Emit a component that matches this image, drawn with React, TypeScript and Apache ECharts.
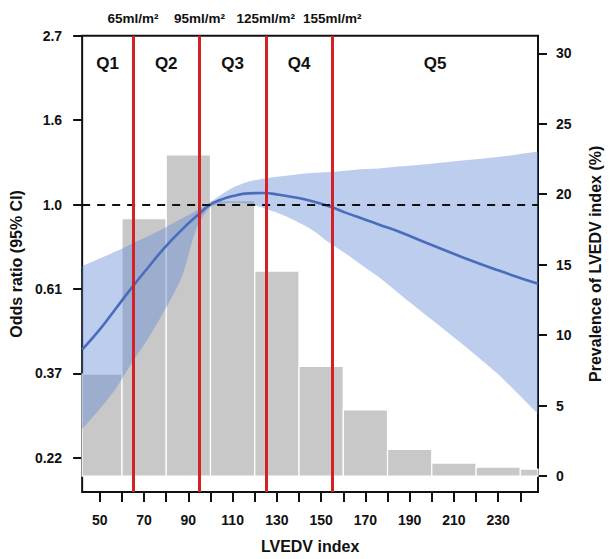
import React, { useEffect, useRef } from 'react';
import * as echarts from 'echarts';

// ---------- data ----------
const xMin = 42;
const xMax = 248;

// histogram (right axis, %)
const binStarts = [40, 60, 80, 100, 120, 140, 160, 180, 200, 220, 240];
const binEnds = [60, 80, 100, 120, 140, 160, 180, 200, 220, 240, 260];
const prevalence = [7.24, 18.26, 22.8, 19.55, 14.55, 7.78, 4.69, 1.89, 0.92, 0.64, 0.5];

// spline curve: ln(odds ratio) with 95% CI
const curveX = [42, 50, 57, 64, 72, 79, 87, 94, 100, 105, 110, 117, 124, 131, 139, 146, 154, 161, 170, 176, 185, 200, 215, 230, 248];
const lnOR = [-0.86, -0.74, -0.62, -0.5, -0.37, -0.26, -0.15, -0.065, 0, 0.03, 0.05, 0.066, 0.068, 0.058, 0.04, 0.02, -0.012, -0.048, -0.09, -0.118, -0.16, -0.24, -0.318, -0.39, -0.47];
const lnUpper = [-0.364, -0.32, -0.279, -0.235, -0.187, -0.14, -0.083, -0.034, 0.015, 0.06, 0.1, 0.135, 0.153, 0.166, 0.178, 0.186, 0.192, 0.2, 0.21, 0.214, 0.225, 0.242, 0.262, 0.281, 0.314];
const lnLower = [-1.33, -1.21, -1.094, -0.947, -0.79, -0.633, -0.43, -0.13, -0.015, 0.005, 0.01, 0.004, -0.02, -0.053, -0.1, -0.151, -0.23, -0.29, -0.375, -0.43, -0.525, -0.682, -0.839, -1.006, -1.24];

// quintile cut-offs
const cutoffs = [65, 95, 125, 155];
const cutoffLabels = ['65ml/m²', '95ml/m²', '125ml/m²', '155ml/m²'];
const qNames = ['Q1', 'Q2', 'Q3', 'Q4', 'Q5'];
const qBounds = [xMin, 65, 95, 125, 155, xMax];

// axes
const xTicks = [50, 60, 70, 80, 90, 100, 110, 120, 130, 140, 150, 160, 170, 180, 190, 200, 210, 220, 230, 240];
const xLabels = [50, 70, 90, 110, 130, 150, 170, 190, 210, 230];
const orTickLn = [-1.5, -1, -0.5, 0, 0.5, 1];
const orTickLabels = ['0.22', '0.37', '0.61', '1.0', '1.6', '2.7'];
const orMinLn = -1.703;
const orMaxLn = 1.0;
const prevTicks = [0, 5, 10, 15, 20, 25, 30];
const prevMin = -1.13;
const prevMax = 31.25;

const FONT = 'Liberation Sans, Arial, Helvetica, sans-serif';
const INK = '#111';

export default function App() {
  const ref = useRef<HTMLDivElement>(null);
  useEffect(() => {
    document.body.style.margin = '0';
    const chart = echarts.init(ref.current!, null, { renderer: 'svg' });

    const option: any = {
      animation: false,
      textStyle: { fontFamily: FONT },
      grid: {
        left: 80.7,
        right: 71,
        top: 35.7,
        bottom: 65.7,
        show: true,
        borderColor: INK,
        borderWidth: 2,
        backgroundColor: 'transparent',
      },
      xAxis: {
        type: 'value',
        min: xMin,
        max: xMax,
        axisLine: { show: false, onZero: false },
        splitLine: { show: false },
        axisTick: { show: true, customValues: xTicks, length: 10, lineStyle: { color: INK, width: 2 } },
        axisLabel: { customValues: xLabels, margin: 21, fontSize: 14, fontWeight: 'bold', color: INK, fontFamily: FONT },
        name: 'LVEDV index',
        nameLocation: 'middle',
        nameGap: 46,
        nameTextStyle: { fontSize: 16, fontWeight: 'bold', color: INK, fontFamily: FONT },
      },
      yAxis: [
        {
          type: 'value',
          position: 'left',
          min: orMinLn,
          max: orMaxLn,
          axisLine: { show: false, onZero: false },
          splitLine: { show: false },
          axisTick: { show: true, customValues: orTickLn, length: 9, lineStyle: { color: INK, width: 2 } },
          axisLabel: {
            customValues: orTickLn,
            margin: 20,
            fontSize: 14,
            fontWeight: 'bold',
            color: INK,
            fontFamily: FONT,
            formatter: (v: number) => {
              const i = orTickLn.findIndex((t) => Math.abs(t - v) < 1e-6);
              return i >= 0 ? orTickLabels[i] : '';
            },
          },
          name: 'Odds ratio (95% CI)',
          nameLocation: 'middle',
          nameGap: 53,
          nameTextStyle: { fontSize: 16, fontWeight: 'bold', color: INK, fontFamily: FONT },
        },
        {
          type: 'value',
          position: 'right',
          min: prevMin,
          max: prevMax,
          axisLine: { show: false, onZero: false },
          splitLine: { show: false },
          axisTick: { show: true, customValues: prevTicks, length: 9, lineStyle: { color: INK, width: 2 } },
          axisLabel: { customValues: prevTicks, margin: 18, fontSize: 14, fontWeight: 'bold', color: INK, fontFamily: FONT },
          name: 'Prevalence of LVEDV index (%)',
          nameLocation: 'middle',
          nameGap: 49,
          nameTextStyle: { fontSize: 16, fontWeight: 'bold', color: INK, fontFamily: FONT },
        },
      ],
      series: [
        {
          type: 'custom',
          name: 'prevalence',
          xAxisIndex: 0,
          yAxisIndex: 1,
          z: 1,
          encode: { x: [0, 1], y: 2 },
          data: binStarts.map((s, i) => [s, binEnds[i], prevalence[i]]),
          renderItem: (params: any, api: any) => {
            const p0 = api.coord([api.value(0), 0]);
            const p1 = api.coord([api.value(1), api.value(2)]);
            const cs = params.coordSys;
            const shape = echarts.graphic.clipRectByRect(
              { x: p0[0], y: p1[1], width: p1[0] - p0[0], height: p0[1] - p1[1] },
              { x: cs.x, y: cs.y, width: cs.width, height: cs.height }
            );
            if (!shape) return null;
            return {
              type: 'rect',
              shape,
              style: { fill: '#c8c8c8', stroke: '#ffffff', lineWidth: 1.2 },
            };
          },
          markArea: {
            silent: true,
            itemStyle: { color: 'rgba(0,0,0,0)' },
            label: {
              show: true,
              position: 'insideTop',
              distance: 19,
              fontSize: 17,
              fontWeight: 'bold',
              color: INK,
              fontFamily: FONT,
            },
            data: qNames.map((n, i) => [{ xAxis: qBounds[i], name: n }, { xAxis: qBounds[i + 1] }]),
          },
        },
        {
          type: 'custom',
          name: 'CI',
          xAxisIndex: 0,
          yAxisIndex: 0,
          z: 2,
          encode: { x: 0, y: [1, 2] },
          data: curveX.map((x, i) => [x, lnLower[i], lnUpper[i]]),
          renderItem: (params: any, api: any) => {
            if (params.dataIndex !== 0) return null;
            const n = curveX.length;
            const pts: number[][] = [];
            const up = curveX.map((x, i) => api.coord([x, lnUpper[i]]));
            const lo = curveX.map((x, i) => api.coord([x, lnLower[i]]));
            // duplicate the end points so the smoothing keeps sharp corners at the plot edges
            pts.push(up[0]);
            for (let i = 0; i < n; i++) pts.push(up[i]);
            pts.push(up[n - 1]);
            pts.push(lo[n - 1]);
            for (let i = n - 1; i >= 0; i--) pts.push(lo[i]);
            pts.push(lo[0]);
            return {
              type: 'polygon',
              shape: { points: pts, smooth: 0.3 },
              style: { fill: 'rgba(95,135,215,0.42)', stroke: 'none' },
            };
          },
        },
        {
          type: 'line',
          name: 'OR',
          xAxisIndex: 0,
          yAxisIndex: 0,
          z: 3,
          smooth: true,
          symbol: 'none',
          data: curveX.map((x, i) => [x, lnOR[i]]),
          lineStyle: { color: '#4a6cbd', width: 2.6 },
          markLine: {
            silent: true,
            symbol: 'none',
            animation: false,
            data: [
              {
                yAxis: 0,
                lineStyle: { type: [8, 7], color: INK, width: 2 },
                label: { show: false },
              },
              ...cutoffs.map((c, i) => ({
                xAxis: c,
                lineStyle: { type: 'solid', color: '#d42027', width: 3 },
                label: {
                  show: true,
                  position: 'end',
                  distance: 10,
                  formatter: cutoffLabels[i],
                  fontSize: 13.5,
                  fontWeight: 'bold',
                  color: INK,
                  fontFamily: FONT,
                },
              })),
            ],
          },
        },
      ],
    };

    chart.setOption(option);
    return () => chart.dispose();
  }, []);
  return <div ref={ref} style={{ width: 611, height: 559 }} />;
}
